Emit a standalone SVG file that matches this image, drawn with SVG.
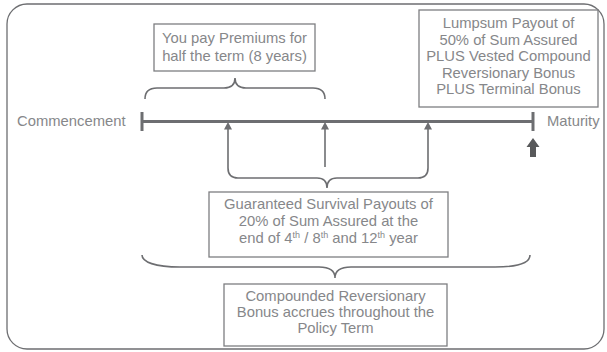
<svg xmlns="http://www.w3.org/2000/svg" width="607" height="352" viewBox="0 0 607 352">
<defs>
<style>
.t{font-family:"Liberation Sans",Arial,sans-serif;font-size:14.8px;fill:#86878a;}
.c{text-anchor:middle;}
.box{fill:#fff;stroke:#7d7e81;stroke-width:1.3;}
.ln{fill:none;stroke:#6d6e71;stroke-width:1.6;}
.ah{fill:#6d6e71;}
.sup{font-size:9px;}
</style>
</defs>
<rect x="7" y="4" width="597" height="345" rx="20" ry="20" fill="#fff" stroke="#6d6e71" stroke-width="1.3"/>

<g id="timeline">
<line x1="142" y1="121.5" x2="533" y2="121.5" stroke="#6d6e71" stroke-width="3"/>
<line x1="142" y1="112" x2="142" y2="131" stroke="#6d6e71" stroke-width="3"/>
<line x1="533" y1="112" x2="533" y2="131" stroke="#6d6e71" stroke-width="3"/>
</g>

<g id="label-commencement"><text class="t" x="17" y="125.5">Commencement</text></g>
<g id="label-maturity"><text class="t" x="547" y="125.5">Maturity</text></g>

<g id="box-premiums">
<rect class="box" x="154" y="24" width="161" height="47"/>
<text class="t c" x="234.5" y="43">You pay Premiums for</text>
<text class="t c" x="234.5" y="61">half the term (8 years)</text>
</g>

<g id="box-lumpsum">
<rect class="box" x="419" y="10" width="179" height="97"/>
<text class="t c" x="508.5" y="28">Lumpsum Payout of</text>
<text class="t c" x="508.5" y="44.5">50% of Sum Assured</text>
<text class="t c" x="508.5" y="61">PLUS Vested Compound</text>
<text class="t c" x="508.5" y="77.5">Reversionary Bonus</text>
<text class="t c" x="508.5" y="94">PLUS Terminal Bonus</text>
</g>

<g id="box-survival">
<rect class="box" x="209" y="192" width="239" height="65"/>
<text class="t c" x="328.5" y="209">Guaranteed Survival Payouts of</text>
<text class="t c" x="328.5" y="226">20% of Sum Assured at the</text>
<text class="t c" x="328.5" y="243">end of 4<tspan class="sup" dy="-5">th</tspan><tspan dy="5"> / 8</tspan><tspan class="sup" dy="-5">th</tspan><tspan dy="5"> and 12</tspan><tspan class="sup" dy="-5">th</tspan><tspan dy="5"> year</tspan></text>
</g>

<g id="box-bonus">
<rect class="box" x="224" y="284" width="223" height="62"/>
<text class="t c" x="335.5" y="301">Compounded Reversionary</text>
<text class="t c" x="335.5" y="317">Bonus accrues throughout the</text>
<text class="t c" x="335.5" y="333">Policy Term</text>
</g>

<g id="connectors">
<path class="ln" d="M145,99 Q145,88 157,88 H224 Q235,88 235,78 Q235,88 246,88 H313 Q325,88 325,99"/>
<path class="ln" d="M228,127 V168 Q228,178 238,178 H317 Q327,178 327,188 Q327,178 337,178 H418 Q428,178 428,168 V127"/>
<line class="ln" x1="325" y1="127" x2="325" y2="167"/>
<path class="ah" d="M228,122 L232,129.5 L224,129.5 Z"/>
<path class="ah" d="M325,122 L329,129.5 L321,129.5 Z"/>
<path class="ah" d="M428,122 L432,129.5 L424,129.5 Z"/>
<path class="ln" d="M142,255 C142,262 155,267 180,267 H319 Q335,267 335,278 Q335,267 351,267 H495 C520,267 530,262 530,255"/>
<path d="M533,138 L539.5,147 L536,147 L536,157 L530,157 L530,147 L526.5,147 Z" fill="#58595b"/>
</g>
</svg>
